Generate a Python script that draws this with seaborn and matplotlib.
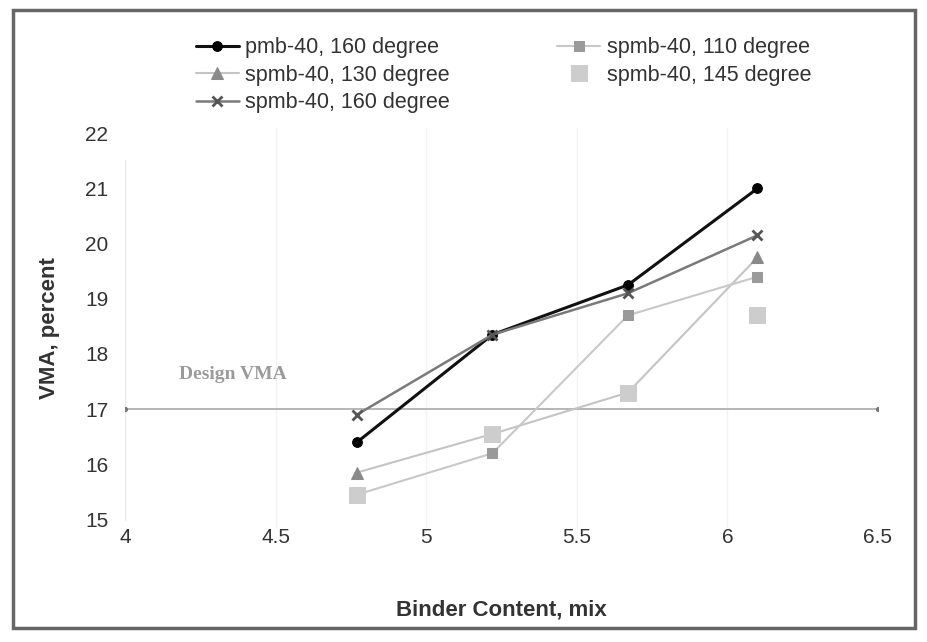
import matplotlib
matplotlib.use("Agg")
import matplotlib.pyplot as plt
import seaborn as sns
import pandas as pd
from matplotlib.patches import Rectangle

sns.set_theme(style="white")
plt.rcParams['font.family'] = ['Liberation Sans', 'DejaVu Sans']

binder = [4.77, 5.22, 5.67, 6.1]
pmb40_160 = [16.4, 18.35, 19.25, 21.0]
spmb40_130 = [15.85, 16.55, 17.3, 19.75]
spmb40_160 = [16.9, 18.35, 19.1, 20.15]
spmb40_110 = [15.45, 16.2, 18.7, 19.4]
spmb40_145 = [15.45, 16.55, 17.3, 18.7]
design_x = [4.0, 6.5]
design_y = [17.0, 17.0]
x_ticks = [4, 4.5, 5, 5.5, 6, 6.5]
y_ticks = [15, 16, 17, 18, 19, 20, 21, 22]

fig = plt.figure(figsize=(9.27, 6.42), dpi=100)
ax = fig.add_axes([0.135, 0.178, 0.812, 0.623])

ax.set_xlim(4, 6.5)
ax.set_ylim(14.85, 22.1)

for xv in x_ticks[1:-1]:
    ax.axvline(xv, color='#f3f3f3', lw=1, zorder=0)
ax.axvline(4, color='#e8e8e8', lw=1, zorder=0, ymin=0.02, ymax=0.92)

sns.lineplot(x=design_x, y=design_y, ax=ax, color='#b0b0b0', lw=1.3,
             marker='o', markersize=3, markeredgecolor='#777', markerfacecolor='#777',
             legend=False)

styles = [
    ("pmb-40, 160 degree", pmb40_160, dict(color='#111111', lw=2.2, marker='o', markersize=7,
                                           markerfacecolor='#000', markeredgecolor='#000')),
    ("spmb-40, 130 degree", spmb40_130, dict(color='#c4c4c4', lw=1.5, marker='^', markersize=8,
                                             markerfacecolor='#8a8a8a', markeredgecolor='#8a8a8a')),
    ("spmb-40, 160 degree", spmb40_160, dict(color='#7a7a7a', lw=1.8, marker='x', markersize=7,
                                             markeredgewidth=2, markeredgecolor='#555')),
    ("spmb-40, 110 degree", spmb40_110, dict(color='#c8c8c8', lw=1.5, marker='s', markersize=7,
                                             markerfacecolor='#9a9a9a', markeredgecolor='#9a9a9a')),
    ("spmb-40, 145 degree", spmb40_145, dict(color='none', lw=0, marker='s', markersize=11,
                                             markerfacecolor='#cdcdcd', markeredgecolor='#cdcdcd')),
]
for name, vals, kw in styles:
    sns.lineplot(x=binder, y=vals, ax=ax, label=name, clip_on=False, **kw)

if ax.get_legend():
    ax.get_legend().remove()
h, l = ax.get_legend_handles_labels()
fig.legend(h, l, ncol=2, loc='upper left', bbox_to_anchor=(0.19, 0.972), frameon=False,
           fontsize=15.5, handlelength=2.0, handletextpad=0.3, labelspacing=0.3,
           columnspacing=5.0, labelcolor='#333')

ax.text(4.18, 17.55, "Design VMA", fontsize=14, color='#9a9a9a', fontweight='bold',
        family=['Liberation Serif', 'DejaVu Serif'])

ax.set_xticks(x_ticks)
ax.set_xticklabels([str(t) for t in x_ticks])
ax.set_yticks(y_ticks)
ax.tick_params(axis='both', length=0, labelsize=15, labelcolor='#333')
ax.tick_params(axis='y', pad=12)
ax.tick_params(axis='x', pad=0)
ax.set_xlabel("Binder Content, mix", fontsize=16, fontweight='bold', color='#333', labelpad=38)
ax.set_ylabel("VMA, percent", fontsize=16, fontweight='bold', color='#333', labelpad=18)
for s in ax.spines.values():
    s.set_visible(False)

fig.patches.append(Rectangle((0.014, 0.022), 0.973, 0.963, transform=fig.transFigure,
                             fill=False, edgecolor='#666', lw=2.5))

fig.savefig("out.png", dpi=100)
